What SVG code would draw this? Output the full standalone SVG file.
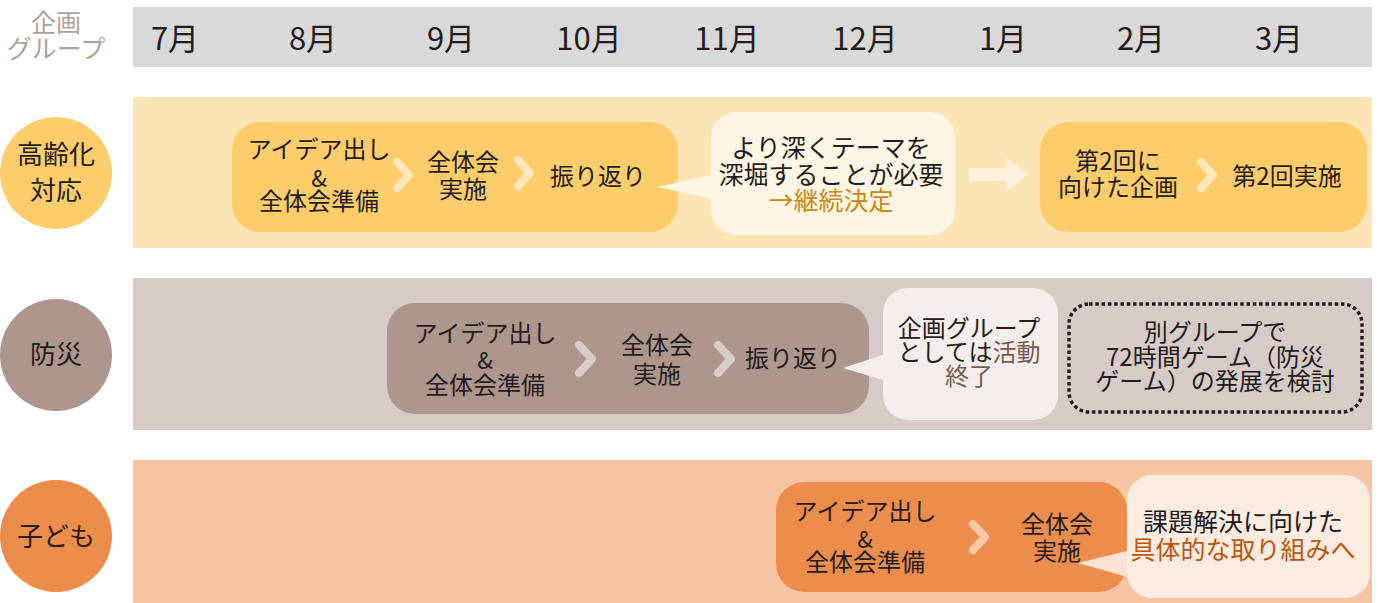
<svg xmlns="http://www.w3.org/2000/svg" width="1380" height="603" viewBox="0 0 1380 603">
<style>
text{font-family:"Noto Sans CJK JP","Noto Sans",sans-serif;fill:#251c20;text-anchor:middle;}
.m{font-size:31px;}
.t{font-size:24px;}
.amp{font-size:23px;}
.c{font-size:25px;}
.lbl{font-size:26px;}
.chev{fill:none;stroke-width:8;stroke-linecap:round;stroke-linejoin:round;}
</style>
<rect width="1380" height="603" fill="#ffffff"/>
<g id="header">
<rect x="133" y="7" width="1239" height="60" fill="#d9d9d9"/>
<text x="56" y="32" font-size="25" style="fill:#b39f98">企画</text>
<text x="56" y="58" font-size="25" style="fill:#b39f98">グループ</text>
<text class="m" x="175" y="50">7月</text>
<text class="m" x="313" y="50">8月</text>
<text class="m" x="451" y="50">9月</text>
<text class="m" x="589" y="50">10月</text>
<text class="m" x="727" y="50">11月</text>
<text class="m" x="865" y="50">12月</text>
<text class="m" x="1003" y="50">1月</text>
<text class="m" x="1141" y="50">2月</text>
<text class="m" x="1279" y="50">3月</text>
</g>
<g id="row-elderly">
<rect x="133" y="97" width="1239" height="151" fill="#fde4b5"/>
<circle cx="56" cy="173" r="56" fill="#fdcd6b"/>
<text class="lbl" x="56" y="164">高齢化</text>
<text class="lbl" x="56" y="200">対応</text>
</g>
<g id="elderly-phase1">
<rect x="232" y="122" width="446" height="110" rx="28" fill="#fdcd6b"/>
<text class="t" x="319" y="158">アイデア出し</text>
<text class="amp" x="319" y="187">&amp;</text>
<text class="t" x="319" y="210">全体会準備</text>
<text class="t" x="463" y="171">全体会</text>
<text class="t" x="463" y="198">実施</text>
<text class="t" x="598" y="185">振り返り</text>
</g>
<g id="elderly-note">
<path d="M657,187 L714,174 L714,199 Z" fill="#fff5e5"/>
<rect x="711" y="112" width="244" height="123" rx="25" fill="#fff5e5"/>
<text class="c" x="831" y="157">より深くテーマを</text>
<text class="c" x="831" y="184">深堀することが必要</text>
<text class="c" x="831" y="210" style="fill:#c9890e">→継続決定</text>
</g>
<g id="elderly-phase2">
<rect x="1040" y="122" width="327" height="110" rx="28" fill="#fdcd6b"/>
<text class="t" x="1118" y="170">第2回に</text>
<text class="t" x="1118" y="196">向けた企画</text>
<text class="t" x="1287" y="185">第2回実施</text>
</g>
<g id="row-disaster">
<rect x="133" y="278" width="1239" height="152" fill="#d6cbc6"/>
<circle cx="56" cy="355" r="56" fill="#ad968c"/>
<text class="lbl" x="56" y="364">防災</text>
</g>
<g id="disaster-phase1">
<rect x="387" y="303" width="482" height="111" rx="28" fill="#ad968c"/>
<text class="t" x="485" y="342">アイデア出し</text>
<text class="amp" x="485" y="369">&amp;</text>
<text class="t" x="485" y="394">全体会準備</text>
<text class="t" x="657" y="354">全体会</text>
<text class="t" x="657" y="383">実施</text>
<text class="t" x="793" y="367">振り返り</text>
</g>
<g id="disaster-note">
<path d="M843,368 L886,354 L886,381 Z" fill="#f3eeeb"/>
<rect x="883" y="288" width="175" height="132" rx="25" fill="#f3eeeb"/>
<text class="t" x="969" y="337">企画グループ</text>
<text class="t" x="969" y="361">としては<tspan style="fill:#7a5b4b">活動</tspan></text>
<text class="t" x="969" y="385" style="fill:#7a5b4b">終了</text>
</g>
<g id="disaster-next">
<rect x="1069" y="304" width="293" height="108" rx="20" fill="none" stroke="#251c20" stroke-width="3.5" stroke-dasharray="3.5 2.8"/>
<text class="t" x="1215" y="341">別グループで</text>
<text class="t" x="1215" y="366">72時間ゲーム（防災</text>
<text class="t" x="1215" y="390">ゲーム）の発展を検討</text>
</g>
<g id="row-children">
<rect x="133" y="460" width="1239" height="143" fill="#f5c5a3"/>
<circle cx="56" cy="536" r="56" fill="#ed8d4b"/>
<text class="lbl" x="56" y="546">子ども</text>
</g>
<g id="children-phase1">
<rect x="776" y="482" width="351" height="110" rx="28" fill="#ed8d4b"/>
<text class="t" x="865" y="520">アイデア出し</text>
<text class="amp" x="865" y="548">&amp;</text>
<text class="t" x="865" y="571">全体会準備</text>
<text class="t" x="1057" y="533">全体会</text>
<text class="t" x="1057" y="560">実施</text>
</g>
<g id="children-note">
<path d="M1078,563 L1131,550 L1131,578 Z" fill="#fbe3d4"/>
<rect x="1127" y="475" width="243" height="123" rx="25" fill="#fcebe1"/>
<text class="c" x="1243" y="531">課題解決に向けた</text>
<text class="c" x="1243" y="559" style="fill:#b9560e">具体的な取り組みへ</text>
</g>
<g id="connectors">
<path class="chev" stroke="#fee7b9" d="M397,162 L409,175 L397,188"/>
<path class="chev" stroke="#fee7b9" d="M518,160 L530,173 L518,186"/>
<path class="chev" stroke="#fee7b9" d="M1201,162 L1213,175 L1201,188"/>
<path d="M969,168 L1006,168 L1006,157 L1028,174.5 L1006,192 L1006,181 L969,181 Z" fill="#fff2dc"/>
<path class="chev" stroke="#d7ccc7" stroke-width="9" d="M579,345 L592,359 L579,373"/>
<path class="chev" stroke="#d7ccc7" stroke-width="9" d="M718,345 L731,359 L718,373"/>
<path class="chev" stroke="#f7c9a8" d="M973,524 L985,537 L973,550"/>
</g>
</svg>
